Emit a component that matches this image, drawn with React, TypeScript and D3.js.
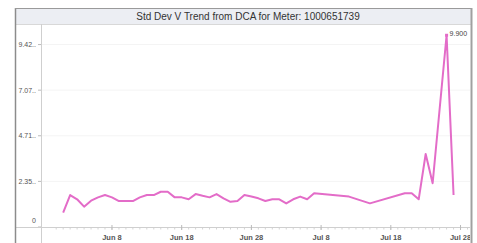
import React from "react";
import * as d3 from "d3";

const title = "Std Dev V Trend from DCA for Meter: 1000651739";

const dates: string[] = [
  "2021-06-01", "2021-06-02", "2021-06-03", "2021-06-04", "2021-06-05",
  "2021-06-06", "2021-06-07", "2021-06-08", "2021-06-09", "2021-06-10",
  "2021-06-11", "2021-06-12", "2021-06-13", "2021-06-14", "2021-06-15",
  "2021-06-16", "2021-06-17", "2021-06-18", "2021-06-19", "2021-06-20",
  "2021-06-21", "2021-06-22", "2021-06-23", "2021-06-24", "2021-06-25",
  "2021-06-26", "2021-06-27", "2021-06-28", "2021-06-29", "2021-06-30",
  "2021-07-01", "2021-07-02", "2021-07-03", "2021-07-04", "2021-07-05",
  "2021-07-06", "2021-07-07", "2021-07-12", "2021-07-15", "2021-07-20",
  "2021-07-21", "2021-07-22", "2021-07-23", "2021-07-24", "2021-07-26",
  "2021-07-27",
];

const values: number[] = [
  0.74, 1.65, 1.43, 1.05, 1.36,
  1.53, 1.65, 1.53, 1.34, 1.34,
  1.34, 1.53, 1.65, 1.65, 1.82,
  1.82, 1.53, 1.53, 1.43, 1.70,
  1.61, 1.53, 1.70, 1.48, 1.30,
  1.34, 1.65, 1.57, 1.48, 1.34,
  1.43, 1.43, 1.22, 1.43, 1.57,
  1.43, 1.74, 1.57, 1.22, 1.74,
  1.74, 1.43, 3.77, 2.26, 9.90,
  1.65,
];

const yTickValues: number[] = [0, 2.355, 4.71, 7.065, 9.42];
const yTickLabels: string[] = ["0", "2.35..", "4.71..", "7.07..", "9.42.."];

const xTickDates: string[] = ["2021-06-08", "2021-06-18", "2021-06-28", "2021-07-08", "2021-07-18", "2021-07-28"];
const xTickLabels: string[] = ["Jun 8", "Jun 18", "Jun 28", "Jul 8", "Jul 18", "Jul 28"];

const peakLabel = "9.900";

export default function App() {
  const W = 477;
  const H = 243;
  const frameL = 15;
  const frameT = 8;
  const frameR = 471;
  const axisX = 41;
  const axisY = 227;
  const plotTop = 25;

  const parse = (s: string) => new Date(s + "T00:00:00Z");
  const data = dates.map((d, i) => ({ date: parse(d), value: values[i] }));

  const x = d3
    .scaleUtc()
    .domain([parse("2021-05-31"), parse("2021-07-29")])
    .range([56.2, 467.5]);
  const y = d3.scaleLinear().domain([0, 10.43]).range([axisY, plotTop]);

  const line = d3
    .line<{ date: Date; value: number }>()
    .x((d) => x(d.date))
    .y((d) => y(d.value));

  const minorTicks = d3.utcDay.range(parse("2021-05-31"), parse("2021-07-30"));

  const peak = data.reduce((a, b) => (b.value > a.value ? b : a));
  const font = "Arial, 'Liberation Sans', sans-serif";

  return (
    <svg
      width={W}
      height={H}
      style={{ position: "absolute", left: 0, top: 0, background: "#fff" }}
      fontFamily={font}
    >
      <defs>
        <clipPath id="frameClip">
          <rect x={frameL + 1} y={frameT + 1} width={frameR - frameL - 2} height={H} />
        </clipPath>
      </defs>
      {/* title bar */}
      <rect x={frameL} y={frameT} width={frameR - frameL} height={16} fill="#eceef3" />
      <line x1={frameL} x2={frameR} y1={24.5} y2={24.5} stroke="#d8d8d8" />
      <text x={248} y={19.5} textAnchor="middle" fontSize={10} fill="#333">
        {title}
      </text>

      <g clipPath="url(#frameClip)">
        {/* faint gridlines */}
        {yTickValues.slice(1).map((v, i) => (
          <line key={i} x1={axisX} x2={frameR} y1={y(v)} y2={y(v)} stroke="#f4f4f4" />
        ))}
        {/* y axis */}
        <line x1={axisX + 0.5} x2={axisX + 0.5} y1={24} y2={H} stroke="#cfcfcf" />
        {yTickValues.map((v, i) => (
          <g key={i}>
            <line x1={axisX - 3} x2={axisX} y1={y(v)} y2={y(v)} stroke="#bbb" />
            <text
              x={36}
              y={i === 0 ? y(v) - 4 : y(v) + 2.5}
              textAnchor="end"
              fontSize={7}
              fill="#555"
            >
              {yTickLabels[i]}
            </text>
          </g>
        ))}
        {/* x axis */}
        <line x1={frameL} x2={frameR} y1={axisY + 0.5} y2={axisY + 0.5} stroke="#cfcfcf" />
        {minorTicks.map((d, i) => (
          <line key={i} x1={x(d)} x2={x(d)} y1={axisY + 1} y2={axisY + 2.5} stroke="#d4d4d4" />
        ))}
        {xTickDates.map((d, i) => (
          <g key={d}>
            <line x1={x(parse(d))} x2={x(parse(d))} y1={axisY - 2} y2={axisY + 3} stroke="#bbb" />
            <text
              x={x(parse(d))}
              y={239.5}
              textAnchor="middle"
              fontSize={7.5}
              fontWeight="bold"
              fill="#555"
            >
              {xTickLabels[i]}
            </text>
          </g>
        ))}
        {/* series */}
        <path d={line(data) || ""} fill="none" stroke="#e36cc8" strokeWidth={2} strokeLinejoin="round" />
        <rect x={x(peak.date) - 1.5} y={y(peak.value) - 1.5} width={3} height={3} fill="#e36cc8" />
        <text x={x(peak.date) + 3} y={y(peak.value) + 1} fontSize={7} fill="#444">
          {peakLabel}
        </text>
      </g>

      {/* frame */}
      <line x1={frameL + 0.5} x2={frameL + 0.5} y1={frameT} y2={H} stroke="#8c8c8c" strokeWidth={1.5} />
      <line x1={frameL} x2={frameR} y1={frameT + 0.5} y2={frameT + 0.5} stroke="#9a9a9a" />
      <line x1={frameR + 0.5} x2={frameR + 0.5} y1={frameT} y2={H} stroke="#a0a0a0" strokeWidth={2} />
    </svg>
  );
}
